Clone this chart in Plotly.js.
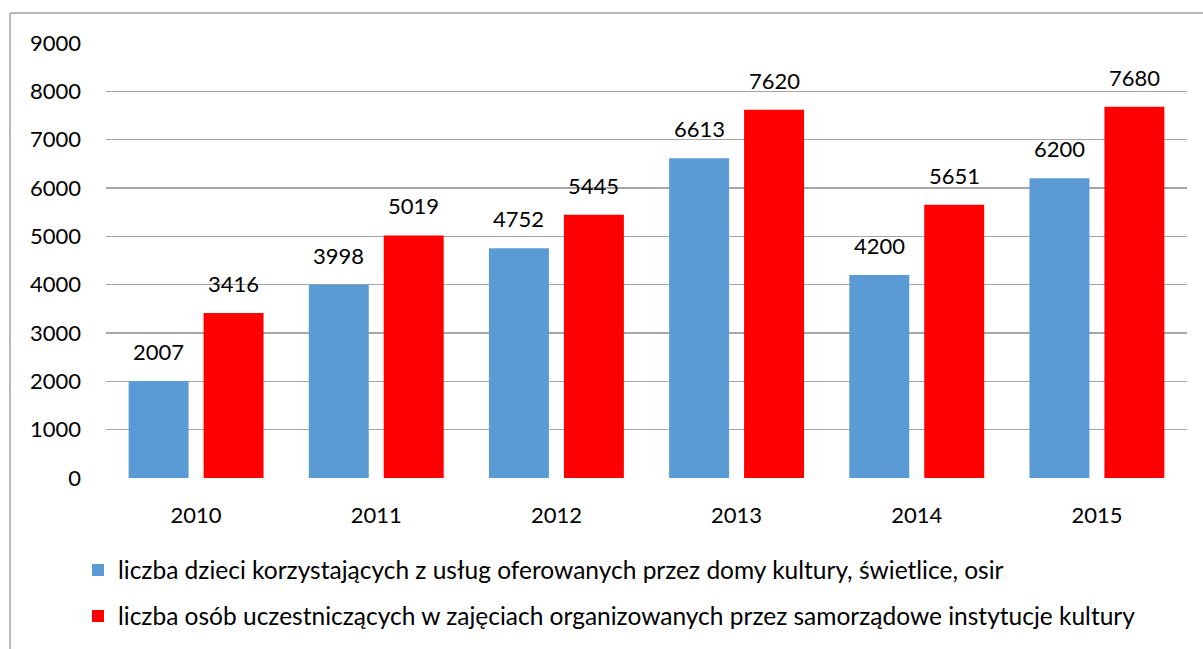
<!DOCTYPE html>
<html>
<head>
<meta charset="utf-8">
<script src="https://cdn.plot.ly/plotly-3.0.1.min.js"></script>
<style>html,body{margin:0;padding:0;background:#fff;} #chart{width:1203px;height:649px;}</style>
</head>
<body>
<div id="chart"></div>
<script>
const years = ['2010', '2011', '2012', '2013', '2014', '2015'];
const dzieci = [2007, 3998, 4752, 6613, 4200, 6200];
const osoby = [3416, 5019, 5445, 7620, 5651, 7680];
const nameDzieci = 'liczba dzieci korzystających z usług oferowanych przez domy kultury, świetlice, osir';
const nameOsoby = 'liczba osób uczestniczących w zajęciach organizowanych przez samorządowe instytucje kultury';
const yTicks = [0, 1000, 2000, 3000, 4000, 5000, 6000, 7000, 8000, 9000];

const FONT = 'Lato, "Open Sans", sans-serif';
const fs = 22;
const lfs = 24.5;

const traces = [
  {type: 'bar', x: years, y: dzieci, name: nameDzieci, marker: {color: '#5B9BD5'}, legend: 'legend', hoverinfo: 'x+y'},
  {type: 'bar', x: years, y: osoby, name: nameOsoby, marker: {color: '#FF0000'}, legend: 'legend2', hoverinfo: 'x+y'}
];

const annotations = [];
const series = [dzieci, osoby];
const offs = [-0.208, 0.208];
series.forEach((vals, si) => {
  vals.forEach((v, i) => {
    annotations.push({x: i + offs[si], y: v, xref: 'x', yref: 'y', text: String(v), showarrow: false,
      yshift: 14, yanchor: 'bottom', font: {family: FONT, size: fs, color: '#000'}});
  });
});

const ml = 106, mr = 16, mt = 43, mb = 170;
const pw = 1203 - ml - mr, ph = 649 - mt - mb;
const px = (p) => (p - ml) / pw;
const py = (p) => (649 - mb - p) / ph;

const layout = {
  width: 1203, height: 649,
  margin: {l: ml, r: mr, t: mt, b: mb, pad: 0},
  paper_bgcolor: '#fff', plot_bgcolor: '#fff',
  font: {family: FONT, size: fs, color: '#000'},
  barmode: 'group', bargap: 0.168, bargroupgap: 0.2,
  xaxis: {type: 'category', range: [-0.5, 5.5], showgrid: false, zeroline: false, showline: false, ticks: '', ticklabelstandoff: 22, tickfont: {family: FONT, size: fs}},
  yaxis: {range: [0, 9000], tickvals: yTicks, showgrid: true, gridcolor: '#a6a6a6', gridwidth: 1.3, zeroline: false, showline: false, ticks: '', ticklabelstandoff: 24, tickfont: {family: FONT, size: fs}},
  showlegend: true,
  legend: {x: px(78), y: py(570), xanchor: 'left', yanchor: 'middle', font: {family: FONT, size: lfs}, bgcolor: 'rgba(0,0,0,0)'},
  legend2: {x: px(78), y: py(616), xanchor: 'left', yanchor: 'middle', font: {family: FONT, size: lfs}, bgcolor: 'rgba(0,0,0,0)'},
  annotations: annotations,
  shapes: [
    {type: 'line', xref: 'paper', yref: 'paper', x0: px(10), x1: px(10), y0: py(13), y1: py(660), line: {color: '#a0a0a0', width: 1.5}},
    {type: 'line', xref: 'paper', yref: 'paper', x0: px(10), x1: px(1210), y0: py(13), y1: py(13), line: {color: '#a0a0a0', width: 1.5}}
  ]
};

Plotly.newPlot('chart', traces, layout, {displayModeBar: false, staticPlot: true});
</script>
</body>
</html>
